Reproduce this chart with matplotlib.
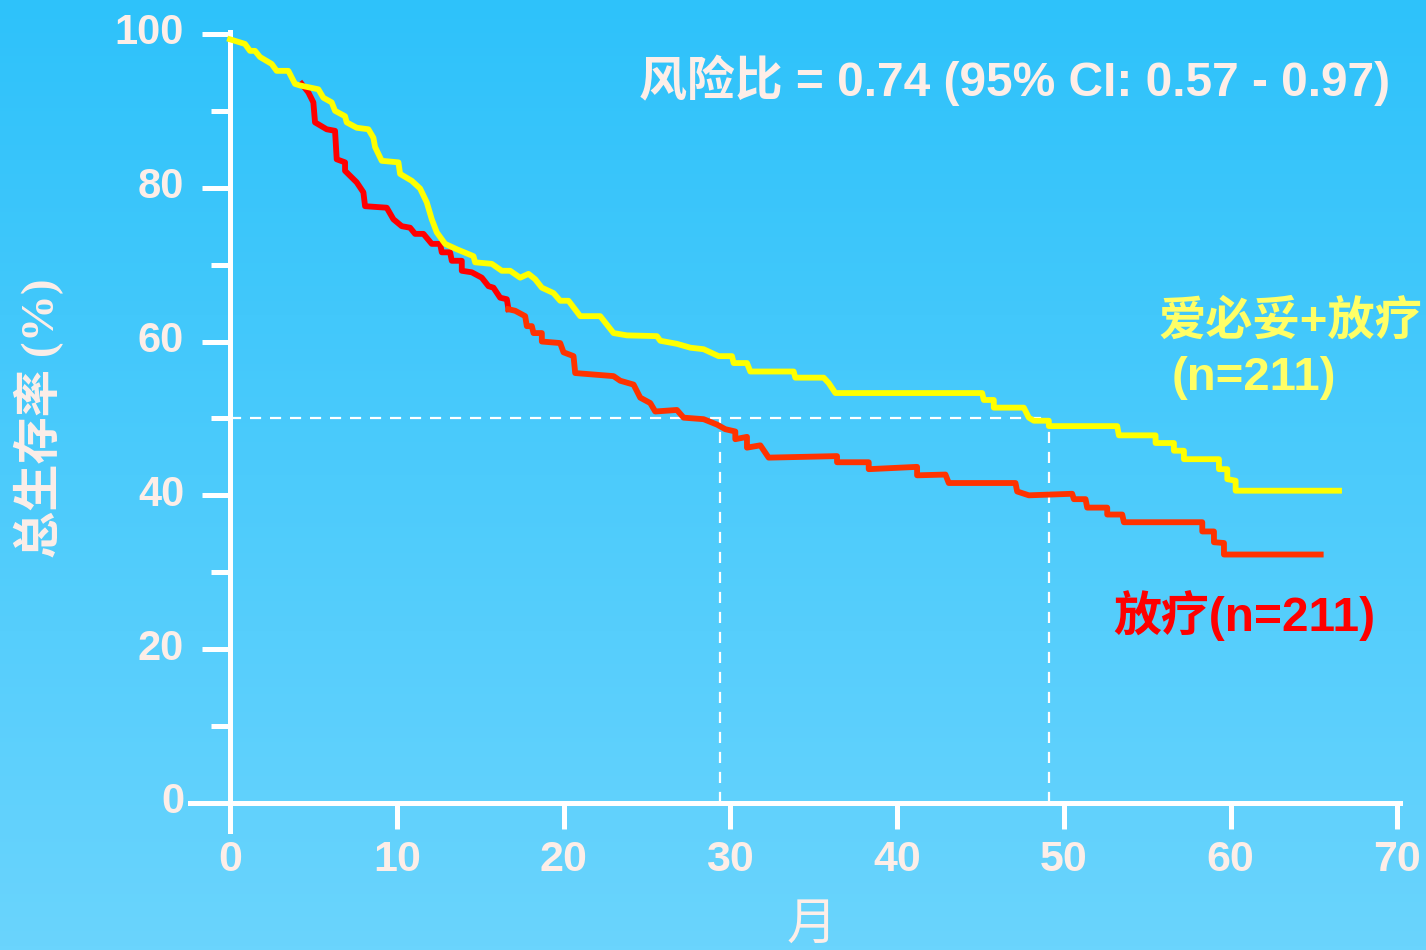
import numpy as np
import matplotlib
matplotlib.use("Agg")
import matplotlib.pyplot as plt
import matplotlib.transforms as mtransforms
from matplotlib.ticker import MultipleLocator

plt.rcParams["font.family"] = ["Liberation Sans", "Noto Sans CJK SC", "DejaVu Sans"]

TEXT_COLOR = "#fdeee8"

# Survival curves (months, % alive)
combo_t = [0.0, 0.9, 1.2, 1.5, 1.8, 2.5, 2.8, 3.5, 3.9, 4.2,
           5.3, 5.6, 6.1, 6.3, 6.9, 7.0, 7.6, 8.3, 8.6, 8.7,
           9.1, 10.1, 10.2, 10.9, 11.4, 11.8, 12.1, 12.4, 12.9, 13.6,
           14.6, 14.7, 15.7, 16.3, 16.8, 17.4, 17.9, 18.3, 18.7, 19.4,
           19.8, 20.3, 21.0, 22.2, 23.0, 23.8, 25.6, 25.8, 26.8, 27.6,
           28.4, 29.3, 30.1, 30.2, 31.0, 31.2, 33.8, 33.9, 35.6, 35.9,
           36.3, 45.1, 45.2, 45.8, 45.8, 47.6, 47.9, 48.2, 49.1, 49.1,
           53.2, 53.3, 55.5, 55.5, 56.6, 56.6, 57.2, 57.2, 59.3, 59.3,
           59.8, 59.8, 60.3, 60.3, 66.5]
combo_s = [99.3, 98.7, 97.8, 97.8, 97.0, 96.1, 95.2, 95.2, 93.5, 93.3,
           92.8, 91.7, 91.1, 90.0, 89.3, 88.5, 87.8, 87.6, 86.5, 85.3,
           83.5, 83.3, 81.8, 80.9, 79.9, 78.1, 75.9, 74.2, 72.7, 72.0,
           71.1, 70.3, 70.1, 69.2, 69.2, 68.3, 68.8, 68.1, 67.0, 66.3,
           65.3, 65.3, 63.3, 63.3, 61.1, 60.8, 60.7, 60.1, 59.7, 59.2,
           59.0, 58.1, 58.1, 57.2, 57.2, 56.1, 56.1, 55.3, 55.3, 54.6,
           53.3, 53.3, 52.4, 52.4, 51.4, 51.4, 50.1, 49.7, 49.7, 49.0,
           49.0, 47.8, 47.8, 46.8, 46.8, 45.8, 45.8, 44.7, 44.7, 43.4,
           43.4, 42.1, 41.9, 40.6, 40.6]

radio_t = [4.3, 4.7, 5.0, 5.1, 5.8, 6.3, 6.4, 6.9, 6.9, 7.6,
           8.0, 8.1, 9.4, 9.8, 10.3, 10.8, 11.1, 11.6, 12.1, 12.6,
           12.7, 13.2, 13.3, 13.9, 13.9, 14.5, 15.1, 15.5, 15.8, 16.2,
           16.6, 16.7, 17.1, 17.7, 17.8, 18.1, 18.2, 18.7, 18.7, 19.8,
           20.0, 20.6, 20.7, 23.0, 23.4, 24.2, 24.6, 25.2, 25.5, 26.8,
           27.2, 28.4, 29.2, 29.7, 30.3, 30.3, 31.0, 31.0, 31.8, 32.3,
           36.4, 36.4, 38.3, 38.3, 41.2, 41.2, 42.9, 43.1, 47.1, 47.2,
           47.9, 50.5, 50.6, 51.3, 51.4, 52.6, 52.6, 53.5, 53.6, 58.3,
           58.3, 59.0, 59.0, 59.6, 59.6, 65.4]
radio_s = [93.5, 92.4, 91.1, 88.5, 87.6, 87.4, 83.7, 83.3, 82.2, 80.7,
           79.4, 77.6, 77.4, 75.9, 75.0, 74.8, 74.0, 74.0, 72.7, 72.7,
           71.6, 71.6, 70.5, 70.5, 69.2, 69.0, 68.3, 67.2, 67.0, 65.7,
           65.5, 64.2, 64.0, 63.3, 62.0, 62.0, 61.1, 61.1, 60.0, 59.8,
           58.6, 58.1, 55.9, 55.5, 54.9, 54.4, 52.7, 52.0, 50.9, 51.1,
           50.1, 49.9, 49.2, 48.6, 48.3, 47.3, 47.6, 46.2, 46.5, 44.9,
           45.1, 44.3, 44.3, 43.4, 43.7, 42.6, 42.7, 41.6, 41.6, 40.5,
           40.0, 40.2, 39.5, 39.5, 38.4, 38.4, 37.5, 37.5, 36.5, 36.5,
           35.3, 35.3, 33.9, 33.8, 32.3, 32.3]

median_combo = 49.1
median_radio = 29.4

x_ticks = [0, 10, 20, 30, 40, 50, 60, 70]
y_ticks = [0, 20, 40, 60, 80, 100]


def main():
    fig = plt.figure(figsize=(14.26, 9.5), dpi=100)

    # vertical gradient background
    bg = fig.add_axes([0, 0, 1, 1], zorder=0)
    top = np.array([46, 194, 250]) / 255
    bottom = np.array([106, 212, 253]) / 255
    f = np.linspace(0, 1, 256)[:, None]
    grad = (top * (1 - f) + bottom * f)[:, None, :]
    bg.imshow(grad, aspect="auto", extent=[0, 1, 0, 1])
    bg.axis("off")

    ax = fig.add_axes([0.1332, 0.1257, 0.8485, 0.8406], zorder=1)
    ax.patch.set_alpha(0)
    ax.set_xlim(-2.4, 70.15)
    ax.set_ylim(-3.6, 100.25)

    for side in ["top", "right"]:
        ax.spines[side].set_visible(False)
    for side in ["left", "bottom"]:
        ax.spines[side].set_position(("data", 0))
        ax.spines[side].set_color("white")
        ax.spines[side].set_linewidth(3.6)

    ax.set_xticks(x_ticks)
    ax.set_yticks(y_ticks)
    ax.yaxis.set_minor_locator(MultipleLocator(10))
    ax.tick_params(axis="x", direction="out", length=19, width=3.6, color="white",
                   pad=8, labelsize=31, labelcolor=TEXT_COLOR)
    ax.tick_params(axis="y", which="major", direction="out", length=20, width=3.6,
                   color="white", pad=13, labelsize=30, labelcolor=TEXT_COLOR)
    ax.tick_params(axis="y", which="minor", direction="out", length=14, width=3.6,
                   color="white")
    shift = mtransforms.ScaledTranslation(0, 5 / 100, fig.dpi_scale_trans)
    for lab in ax.get_yticklabels():
        lab.set_fontweight("bold")
        lab.set_transform(lab.get_transform() + shift)
    for lab in ax.get_xticklabels():
        lab.set_fontweight("bold")

    # median guide lines
    dash = dict(color="white", lw=1.6, dashes=(5, 4), zorder=2)
    ax.plot([0, median_combo], [50, 50], **dash)
    ax.plot([median_radio, median_radio], [0, 50], **dash)
    ax.plot([median_combo, median_combo], [0, 50], **dash)

    ax.plot(combo_t, combo_s, color="#ffff00", lw=4.2, zorder=4)
    ax.plot(radio_t[:32], radio_s[:32], color="#ff0000", lw=4.2, zorder=3)
    ax.plot(radio_t[31:], radio_s[31:], color="#ff3300", lw=4.2, zorder=3)

    fig.text(0.7115, 0.916, "风险比 = 0.74 (95% CI: 0.57 - 0.97)", ha="center", va="center",
             fontsize=34.5, fontweight="bold", color=TEXT_COLOR)
    fig.text(0.9046, 0.661, "爱必妥+放疗", ha="center", va="center",
             fontsize=34, fontweight="bold", color="#ffff66")
    fig.text(0.8794, 0.602, "(n=211)", ha="center", va="center",
             fontsize=34, fontweight="bold", color="#ffff66")
    fig.text(0.8724, 0.3516, "放疗(n=211)", ha="center", va="center",
             fontsize=34.5, fontweight="bold", color="#ff0000")

    fig.text(0.0272, 0.56, "总生存率 (%)", rotation=90, ha="center", va="center",
             fontsize=34, fontweight="bold", color=TEXT_COLOR,
             family=["Liberation Serif", "Noto Sans CJK SC"])
    fig.text(0.5694, 0.0263, "月", ha="center", va="center",
             fontsize=36, color=TEXT_COLOR, family=["Noto Sans CJK SC"])

    fig.savefig("out.png", dpi=100)


if __name__ == "__main__":
    main()
